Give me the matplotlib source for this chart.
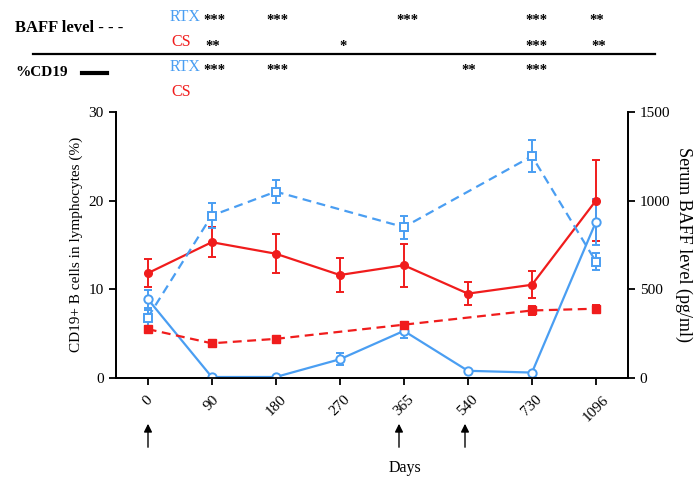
import matplotlib.pyplot as plt
import numpy as np

plt.rcParams['font.family'] = ['Liberation Serif', 'DejaVu Serif']

# Days shown as evenly spaced categories
days = ['0', '90', '180', '270', '365', '540', '730', '1096']

# %CD19 (left axis)
cs_cd19 = [11.8, 15.3, 14.0, 11.6, 12.7, 9.5, 10.5, 20.0]
cs_cd19_err = [1.6, 1.7, 2.2, 1.9, 2.4, 1.3, 1.5, 4.6]
rtx_cd19 = [8.9, 0.1, 0.1, 2.1, 5.3, 0.8, 0.6, 17.6]
rtx_cd19_err = [1.0, 0.0, 0.0, 0.7, 0.8, 0.0, 0.0, 2.6]

# BAFF level (right axis), only measured on some days
baff_idx = [0, 1, 2, 4, 6, 7]
rtx_baff = [340, 915, 1050, 850, 1250, 655]
rtx_baff_err = [45, 70, 65, 65, 90, 48]
cs_baff = [275, 195, 220, 300, 380, 390]
cs_baff_err = [12, 8, 12, 15, 25, 20]

red = '#f01c1c'
blue = '#4a9ef2'

fig = plt.figure(figsize=(6.97, 4.82), dpi=100)
ax = fig.add_axes([0.166, 0.216, 0.735, 0.552])
ax2 = ax.twinx()

x = np.arange(len(days))
ax.errorbar(x, cs_cd19, yerr=cs_cd19_err, color=red, marker='o', ms=5.5,
            lw=1.6, capsize=3, elinewidth=1.4, capthick=1.4, zorder=3)
ax.errorbar(x, rtx_cd19, yerr=rtx_cd19_err, color=blue, marker='o', ms=6,
            mfc='white', mew=1.4, lw=1.6, capsize=3, elinewidth=1.4,
            capthick=1.4, zorder=3)

ax2.errorbar(baff_idx, rtx_baff, yerr=rtx_baff_err, color=blue, marker='s', ms=5.5,
             mfc='white', mew=1.4, lw=1.6, ls=(0, (4, 2.5)), capsize=3,
             elinewidth=1.4, capthick=1.4)
ax2.errorbar(baff_idx, cs_baff, yerr=cs_baff_err, color=red, marker='s', ms=6,
             lw=1.6, ls=(0, (4, 2.5)), capsize=3, elinewidth=1.4, capthick=1.4)

ax.set_xlim(-0.5, 7.5)
ax.set_ylim(0, 30)
ax.set_yticks([0, 10, 20, 30])
ax2.set_ylim(0, 1500)
ax2.set_yticks([0, 500, 1000, 1500])
ax.set_xticks(x)
ax.set_xticklabels(days, rotation=45, ha='center')

for a in (ax, ax2):
    a.spines['top'].set_visible(False)
    for s in ('left', 'right', 'bottom'):
        a.spines[s].set_linewidth(1.3)
    a.tick_params(width=1.3, length=5, labelsize=11)
ax.tick_params(axis='x', pad=6)

ax.set_ylabel('CD19+ B cells in lymphocytes (%)', fontsize=11)
ax2.set_ylabel('Serum BAFF level (pg/ml)', fontsize=13, rotation=270, labelpad=16)

# treatment arrows and x label
for xa in (148, 399, 465):
    fig.add_artist(plt.Annotation('', xy=(xa / 697, 1 - 421 / 482),
                                  xytext=(xa / 697, 1 - 450 / 482),
                                  xycoords='figure fraction',
                                  arrowprops=dict(arrowstyle='-|>', color='black',
                                                  lw=1.0, mutation_scale=12)))
fig.text(405 / 697, 1 - 468 / 482, 'Days', ha='center', va='center', fontsize=11.5)

# significance table on top
def ftxt(px, py, s, **kw):
    fig.text(px / 697, 1 - py / 482, s, va='center', **kw)

ftxt(15, 28, 'BAFF level - - -', fontsize=12, fontweight='bold')
ftxt(170, 17, 'RTX', fontsize=11.5, color=blue)
ftxt(171, 42, 'CS', fontsize=11.5, color=red)
ftxt(15, 73, '%CD19', fontsize=11, fontweight='bold')
ftxt(170, 67, 'RTX', fontsize=11.5, color=blue)
ftxt(171, 92, 'CS', fontsize=11.5, color=red)
fig.add_artist(plt.Line2D([33 / 697, 655 / 697], [1 - 54 / 482] * 2, color='black', lw=1.6))
fig.add_artist(plt.Line2D([82 / 697, 107 / 697], [1 - 73 / 482] * 2, color='black', lw=3))

star_rows = [
    (21, [(214, '***'), (277, '***'), (407, '***'), (536, '***'), (597, '**')]),
    (47, [(213, '**'), (343, '*'), (536, '***'), (599, '**')]),
    (70, [(214, '***'), (277, '***'), (469, '**'), (536, '***')]),
]
for py, items in star_rows:
    for px, s in items:
        ftxt(px, py, s, ha='center', fontsize=10.5, fontweight='bold')

fig.savefig('out.png', dpi=100)
